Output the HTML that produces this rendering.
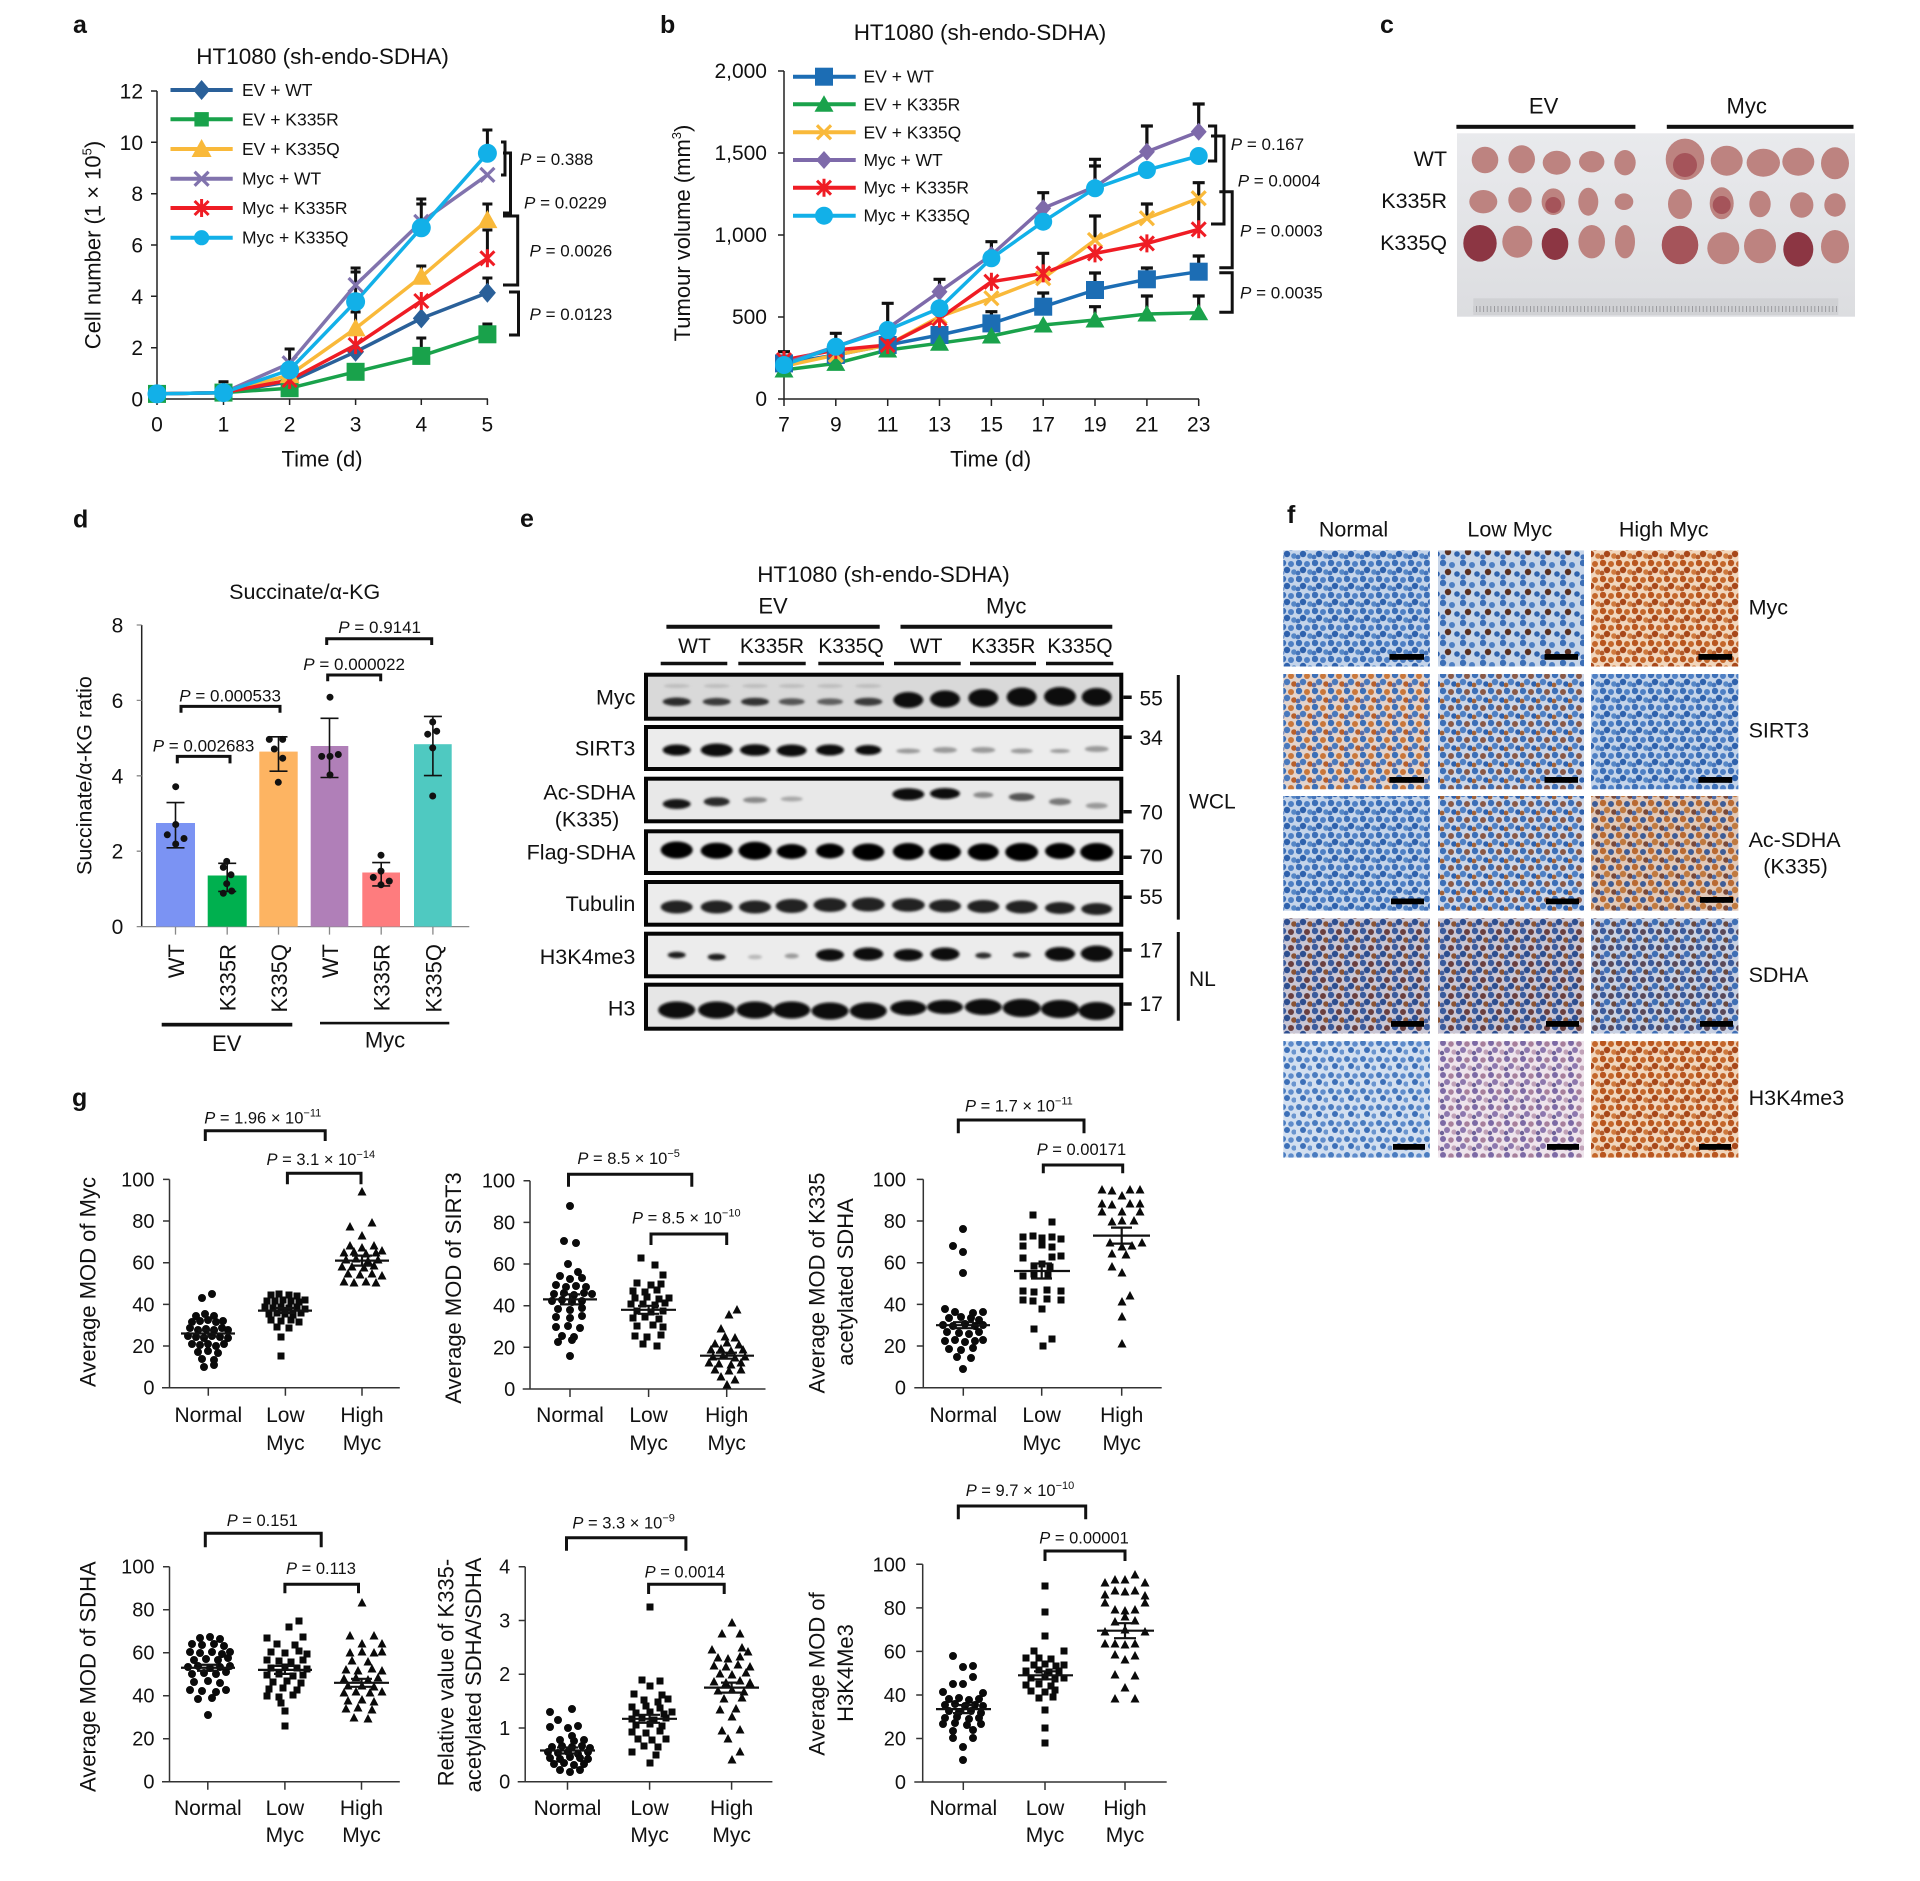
<!DOCTYPE html>
<html><head><meta charset="utf-8"><style>
html,body{margin:0;padding:0;background:#fff}
svg{display:block}
text{font-family:"Liberation Sans",Arial,sans-serif;fill:#111}
</style></head><body>
<svg width="1920" height="1881" viewBox="0 0 1920 1881" xmlns="http://www.w3.org/2000/svg">
<defs>
<g id="aDia"><path d="M0-10L8.5 0 0 10-8.5 0Z" fill="#2a6099"/></g>
<g id="aSq"><rect x="-9" y="-9" width="18" height="18" fill="#19a24b"/></g>
<g id="aTri"><path d="M0-10L10 8H-10Z" fill="#f9b93a"/></g>
<g id="aX"><path d="M-7-7L7 7M-7 7L7-7" stroke="#8173ad" stroke-width="3.2"/></g>
<g id="aAst"><path d="M-7-7L7 7M-7 7L7-7M0-9V9" stroke="#ef1c24" stroke-width="3"/></g>
<g id="aCir"><circle r="9.5" fill="#12b0e8"/></g>
<g id="bSq"><rect x="-9" y="-9" width="18" height="18" fill="#1c6db4"/></g>
<g id="bTri"><path d="M0-9L9.5 7.5H-9.5Z" fill="#1aa24b"/></g>
<g id="bX"><path d="M-7-7L7 7M-7 7L7-7" stroke="#f9b93a" stroke-width="3.2"/></g>
<g id="bDia"><path d="M0-9L8 0 0 9-8 0Z" fill="#7e6aaa"/></g>
<g id="bAst"><path d="M-7-7L7 7M-7 7L7-7M0-9V9" stroke="#ef1c24" stroke-width="3"/></g>
<g id="bCir"><circle r="9" fill="#12b0e8"/></g>
<filter id="bl" x="-30%" y="-80%" width="160%" height="260%"><feGaussianBlur stdDeviation="1.3"/></filter>
<linearGradient id="photo" x1="0" y1="0" x2="0" y2="1"><stop offset="0" stop-color="#e9eaed"/><stop offset="1" stop-color="#dcdde0"/></linearGradient>
<pattern id="ruler" width="3.6" height="17" patternUnits="userSpaceOnUse"><rect width="3.6" height="17" fill="#d0d1d4"/><rect x="0" y="0" width="0.8" height="6" fill="#8d8e92"/></pattern>
<pattern id="pB" width="16" height="16" patternUnits="userSpaceOnUse"><rect width="16" height="16" fill="#c4d4ea"/><circle cx="3" cy="3" r="3.2" fill="#3c6fb7"/><circle cx="11" cy="4" r="3" fill="#4f80c4"/><circle cx="7" cy="10" r="3.2" fill="#2f62ad"/><circle cx="14" cy="12" r="2.8" fill="#5687c6"/><circle cx="2" cy="13" r="2.4" fill="#4575bb"/></pattern>
<pattern id="pBL" width="16" height="16" patternUnits="userSpaceOnUse"><rect width="16" height="16" fill="#d2dff0"/><circle cx="3" cy="3" r="3" fill="#4a7cc0"/><circle cx="11" cy="4" r="2.8" fill="#5f8ccb"/><circle cx="7" cy="10" r="3" fill="#3d70b8"/><circle cx="14" cy="12" r="2.6" fill="#6a95cf"/></pattern>
<pattern id="pLM" width="20" height="20" patternUnits="userSpaceOnUse"><rect width="20" height="20" fill="#c6d4e8"/><circle cx="3" cy="3" r="3.2" fill="#3c6fb7"/><circle cx="12" cy="5" r="3" fill="#4f80c4"/><circle cx="8" cy="12" r="3.2" fill="#5a3020"/><circle cx="17" cy="14" r="2.8" fill="#2f62ad"/><circle cx="3" cy="17" r="2.6" fill="#4575bb"/></pattern>
<pattern id="pO" width="16" height="16" patternUnits="userSpaceOnUse"><rect width="16" height="16" fill="#f1d6bc"/><circle cx="3" cy="3" r="3.2" fill="#b9561f"/><circle cx="11" cy="4" r="3" fill="#c4672b"/><circle cx="7" cy="10" r="3.2" fill="#a8481a"/><circle cx="14" cy="12" r="2.8" fill="#cf7a3e"/><circle cx="2" cy="13" r="2.4" fill="#b35a2a"/></pattern>
<pattern id="pM" width="16" height="16" patternUnits="userSpaceOnUse"><rect width="16" height="16" fill="#e3d3cb"/><circle cx="3" cy="3" r="3.2" fill="#3c6fb7"/><circle cx="11" cy="4" r="3" fill="#c9773b"/><circle cx="7" cy="10" r="3.2" fill="#4a79bd"/><circle cx="14" cy="12" r="2.8" fill="#b8602c"/><circle cx="2" cy="13" r="2.4" fill="#5a6ea8"/></pattern>
<pattern id="pMB" width="16" height="16" patternUnits="userSpaceOnUse"><rect width="16" height="16" fill="#ccd6e8"/><circle cx="3" cy="3" r="3.2" fill="#3c6fb7"/><circle cx="11" cy="4" r="3" fill="#8a5a48"/><circle cx="7" cy="10" r="3.2" fill="#4f80c4"/><circle cx="14" cy="12" r="2.8" fill="#2f62ad"/><circle cx="2" cy="13" r="2.4" fill="#a0623a"/></pattern>
<pattern id="pHA" width="16" height="16" patternUnits="userSpaceOnUse"><rect width="16" height="16" fill="#e2c9b8"/><circle cx="3" cy="3" r="3.2" fill="#b96a32"/><circle cx="11" cy="4" r="3" fill="#3f5d96"/><circle cx="7" cy="10" r="3.2" fill="#c07a40"/><circle cx="14" cy="12" r="2.8" fill="#7a4a3a"/><circle cx="2" cy="13" r="2.4" fill="#4c6aa6"/></pattern>
<pattern id="pD" width="16" height="16" patternUnits="userSpaceOnUse"><rect width="16" height="16" fill="#c9c6d4"/><circle cx="3" cy="3" r="3.2" fill="#3a5b9c"/><circle cx="11" cy="4" r="3" fill="#6a4040"/><circle cx="7" cy="10" r="3.2" fill="#2e4f90"/><circle cx="14" cy="12" r="2.8" fill="#8a5436"/><circle cx="2" cy="13" r="2.4" fill="#45609e"/></pattern>
<pattern id="pDB" width="16" height="16" patternUnits="userSpaceOnUse"><rect width="16" height="16" fill="#c8d0e2"/><circle cx="3" cy="3" r="3.2" fill="#3a5b9c"/><circle cx="11" cy="4" r="3" fill="#5a4a5a"/><circle cx="7" cy="10" r="3.2" fill="#3f6fb5"/><circle cx="14" cy="12" r="2.8" fill="#6a4a40"/><circle cx="2" cy="13" r="2.4" fill="#4a6aac"/></pattern>
<pattern id="pP" width="16" height="16" patternUnits="userSpaceOnUse"><rect width="16" height="16" fill="#eee4ec"/><circle cx="3" cy="3" r="3" fill="#7c6aa5"/><circle cx="11" cy="4" r="2.8" fill="#a7809c"/><circle cx="7" cy="10" r="3" fill="#8d78ae"/><circle cx="14" cy="12" r="2.6" fill="#c0a2b8"/><circle cx="2" cy="13" r="2.2" fill="#6e6298"/></pattern>
</defs>

<!-- panel letters -->
<g font-weight="bold" font-size="25">
<text x="73" y="33">a</text><text x="660" y="33">b</text><text x="1380" y="33">c</text>
<text x="73" y="527.5">d</text><text x="520" y="527">e</text><text x="1287" y="523">f</text>
<text x="72" y="1106">g</text>
</g>

<!-- ================= PANEL A ================= -->
<text x="322.6" y="64" text-anchor="middle" font-size="22.5">HT1080 (sh-endo-SDHA)</text>
<path d="M157 91V399H488" stroke="#222" stroke-width="1.5" fill="none"/>
<path d="M151 91H157M151 142.3H157M151 193.7H157M151 245H157M151 296.3H157M151 347.7H157M151 399H157M157 399V405M223.5 399V405M289.6 399V405M355.6 399V405M421.3 399V405M487.4 399V405" stroke="#222" stroke-width="1.5"/>
<g font-size="21" text-anchor="end">
<text x="143" y="98.5">12</text><text x="143" y="149.8">10</text><text x="143" y="201.2">8</text><text x="143" y="252.5">6</text><text x="143" y="303.8">4</text><text x="143" y="355.2">2</text><text x="143" y="406.5">0</text>
</g>
<g font-size="21" text-anchor="middle">
<text x="157" y="431.7">0</text><text x="223.5" y="431.7">1</text><text x="289.6" y="431.7">2</text><text x="355.6" y="431.7">3</text><text x="421.3" y="431.7">4</text><text x="487.4" y="431.7">5</text>
</g>
<text x="322" y="466.7" text-anchor="middle" font-size="22">Time (d)</text>
<text transform="translate(100.6,245) rotate(-90)" text-anchor="middle" font-size="22">Cell number (1 × 10<tspan dy="-9" font-size="13">5</tspan><tspan dy="9">)</tspan></text>
<!-- error bars a -->
<path d="M223.5 392V381.7M218.5 381.7h10M289.6 363V349M284.6 349h10M355.6 285V268M350.6 268h10M355.6 301V272M350.6 272h10M355.6 328V312M350.6 312h10M421.3 222V199M416.3 199h10M416.3 204h10M421.3 277V266M416.3 266h10M421.3 356V338M416.3 338h10M487.4 153V130M482.4 130h10M487.4 220V204M482.4 204h10M487.4 258V230M482.4 230h10M487.4 293V278M482.4 278h10M487.4 334V324M482.4 324h10" stroke="#111" stroke-width="3" fill="none"/>
<!-- series a -->
<g fill="none" stroke-width="3.5" stroke-linejoin="round">
<path d="M157 393.9L223.5 392.6 289.6 381.8 355.6 351.8 421.3 318.4 487.4 292.7" stroke="#2a6099"/>
<path d="M157 393.9L223.5 392.6 289.6 388.2 355.6 371.8 421.3 355.9 487.4 334.3" stroke="#19a24b"/>
<path d="M157 393.9L223.5 392.6 289.6 375.1 355.6 328.4 421.3 276.8 487.4 220.1" stroke="#f9b93a"/>
<path d="M157 393.9L223.5 392.6 289.6 380 355.6 345.1 421.3 301 487.4 258.3" stroke="#ef1c24"/>
<path d="M157 393.9L223.5 392.6 289.6 363.3 355.6 285 421.3 221.9 487.4 174.9" stroke="#8173ad"/>
<path d="M157 393.9L223.5 392.6 289.6 370 355.6 301.7 421.3 227.8 487.4 153.3" stroke="#12b0e8"/>
</g>
<use href="#aDia" x="289.6" y="381.8"/><use href="#aDia" x="355.6" y="351.8"/><use href="#aDia" x="421.3" y="318.4"/><use href="#aDia" x="487.4" y="292.7"/>
<use href="#aSq" x="157" y="393.9"/><use href="#aSq" x="223.5" y="392.6"/><use href="#aSq" x="289.6" y="388.2"/><use href="#aSq" x="355.6" y="371.8"/><use href="#aSq" x="421.3" y="355.9"/><use href="#aSq" x="487.4" y="334.3"/>
<use href="#aTri" x="289.6" y="375.1"/><use href="#aTri" x="355.6" y="328.4"/><use href="#aTri" x="421.3" y="276.8"/><use href="#aTri" x="487.4" y="220.1"/>
<use href="#aAst" x="289.6" y="380"/><use href="#aAst" x="355.6" y="345.1"/><use href="#aAst" x="421.3" y="301"/><use href="#aAst" x="487.4" y="258.3"/>
<use href="#aX" x="289.6" y="363.3"/><use href="#aX" x="355.6" y="285"/><use href="#aX" x="421.3" y="221.9"/><use href="#aX" x="487.4" y="174.9"/>
<use href="#aCir" x="157" y="393.9"/><use href="#aCir" x="223.5" y="392.6"/><use href="#aCir" x="289.6" y="370"/><use href="#aCir" x="355.6" y="301.7"/><use href="#aCir" x="421.3" y="227.8"/><use href="#aCir" x="487.4" y="153.3"/>
<!-- legend a -->
<g stroke-width="4">
<path d="M170.5 90H232.7" stroke="#2a6099"/><path d="M170.5 119.3H232.7" stroke="#19a24b"/><path d="M170.5 149H232.7" stroke="#f9b93a"/><path d="M170.5 178.7H232.7" stroke="#8173ad"/><path d="M170.5 208H232.7" stroke="#ef1c24"/><path d="M170.5 237.7H232.7" stroke="#12b0e8"/>
</g>
<use href="#aDia" x="201.6" y="90"/><use href="#aSq" x="201.6" y="119.3" transform="translate(201.6 119.3) scale(.8) translate(-201.6 -119.3)"/><use href="#aTri" x="201.6" y="149"/><use href="#aX" x="201.6" y="178.7"/><use href="#aAst" x="201.6" y="208"/><use href="#aCir" x="201.6" y="237.7" transform="translate(201.6 237.7) scale(.8) translate(-201.6 -237.7)"/>
<g font-size="17.5">
<text x="242" y="96">EV + WT</text><text x="242" y="125.3">EV + K335R</text><text x="242" y="155">EV + K335Q</text><text x="242" y="184.7">Myc + WT</text><text x="242" y="214">Myc + K335R</text><text x="242" y="243.7">Myc + K335Q</text>
</g>
<!-- brackets a -->
<path d="M501 142H505V175H501M503 153H510.5V213H503M503 216H517.7V285H503M509 292H518.5V335H509" stroke="#111" stroke-width="3" fill="none"/>
<g font-size="17">
<text x="520" y="165"><tspan font-style="italic">P</tspan> = 0.388</text>
<text x="524" y="208.3"><tspan font-style="italic">P</tspan> = 0.0229</text>
<text x="529.5" y="256.7"><tspan font-style="italic">P</tspan> = 0.0026</text>
<text x="529.5" y="320"><tspan font-style="italic">P</tspan> = 0.0123</text>
</g>

<!-- ================= PANEL B ================= -->
<text x="980" y="40" text-anchor="middle" font-size="22.5">HT1080 (sh-endo-SDHA)</text>
<path d="M784 71V399H1199" stroke="#222" stroke-width="1.5" fill="none"/>
<path d="M778 71H784M778 153H784M778 235H784M778 317H784M778 399H784M784 399V406M835.8 399V406M887.7 399V406M939.5 399V406M991.4 399V406M1043.2 399V406M1095 399V406M1146.9 399V406M1198.7 399V406" stroke="#222" stroke-width="1.5"/>
<g font-size="21" text-anchor="end">
<text x="767" y="78">2,000</text><text x="767" y="160">1,500</text><text x="767" y="242">1,000</text><text x="767" y="324">500</text><text x="767" y="406">0</text>
</g>
<g font-size="21" text-anchor="middle">
<text x="784" y="431.7">7</text><text x="835.8" y="431.7">9</text><text x="887.7" y="431.7">11</text><text x="939.5" y="431.7">13</text><text x="991.4" y="431.7">15</text><text x="1043.2" y="431.7">17</text><text x="1095" y="431.7">19</text><text x="1146.9" y="431.7">21</text><text x="1198.7" y="431.7">23</text>
</g>
<text x="990.7" y="466.7" text-anchor="middle" font-size="22">Time (d)</text>
<text transform="translate(690,233) rotate(-90)" text-anchor="middle" font-size="22">Tumour volume (mm<tspan dy="-9" font-size="13">3</tspan><tspan dy="9">)</tspan></text>
<!-- error bars b -->
<path d="M784 363V351.7M778 351.7h12M835.8 347V333.3M829.8 333.3h12M887.7 328V303.3M881.7 303.3h12M939.5 292V279.3M933.5 279.3h12M991.4 255V241.7M985.4 241.7h12M991.4 323V311.7M985.4 311.7h12M1043.2 208V192.7M1037.2 192.7h12M1043.2 278V253.3M1037.2 253.3h12M1043.2 307V293M1037.2 293h12M1095 187V159.3M1089 159.3h12M1089 166h12M1095 240V216M1089 216h12M1095 290V273M1089 273h12M1095 320V306.7M1089 306.7h12M1146.9 152V126M1140.9 126h12M1146.9 218V204M1140.9 204h12M1146.9 279V268M1140.9 268h12M1146.9 314V296M1140.9 296h12M1198.7 132V104M1192.7 104h12M1198.7 230V182.7M1192.7 182.7h12M1198.7 272V256M1192.7 256h12M1198.7 313V296M1192.7 296h12" stroke="#111" stroke-width="3.2" fill="none"/>
<g fill="none" stroke-width="3.5" stroke-linejoin="round">
<path d="M784 363.4L835.8 355 887.7 345 939.5 335 991.4 323.4 1043.2 306.7 1095 290 1146.9 279.3 1198.7 271.7" stroke="#1c6db4"/>
<path d="M784 370L835.8 363.4 887.7 350 939.5 343.2 991.4 336 1043.2 325 1095 320 1146.9 314 1198.7 312.7" stroke="#1aa24b"/>
<path d="M784 366.2L835.8 355 887.7 345 939.5 316.7 991.4 298.3 1043.2 278.3 1095 240 1146.9 218.3 1198.7 198.3" stroke="#f9b93a"/>
<path d="M784 360L835.8 350 887.7 345 939.5 318.6 991.4 281.7 1043.2 273.4 1095 253.4 1146.9 243.4 1198.7 229.3" stroke="#ef1c24"/>
<path d="M784 363.4L835.8 346.7 887.7 328.3 939.5 291.7 991.4 255 1043.2 208.3 1095 186.8 1146.9 151.7 1198.7 131.7" stroke="#7e6aaa"/>
<path d="M784 365L835.8 346.7 887.7 330 939.5 308.3 991.4 258.3 1043.2 221.7 1095 188.3 1146.9 170 1198.7 156" stroke="#12b0e8"/>
</g>
<use href="#bSq" x="784" y="363.4"/><use href="#bSq" x="835.8" y="355"/><use href="#bSq" x="887.7" y="345"/><use href="#bSq" x="939.5" y="335"/><use href="#bSq" x="991.4" y="323.4"/><use href="#bSq" x="1043.2" y="306.7"/><use href="#bSq" x="1095" y="290"/><use href="#bSq" x="1146.9" y="279.3"/><use href="#bSq" x="1198.7" y="271.7"/>
<use href="#bTri" x="784" y="370"/><use href="#bTri" x="835.8" y="363.4"/><use href="#bTri" x="887.7" y="350"/><use href="#bTri" x="939.5" y="343.2"/><use href="#bTri" x="991.4" y="336"/><use href="#bTri" x="1043.2" y="325"/><use href="#bTri" x="1095" y="320"/><use href="#bTri" x="1146.9" y="314"/><use href="#bTri" x="1198.7" y="312.7"/>
<use href="#bX" x="835.8" y="355"/><use href="#bX" x="939.5" y="316.7"/><use href="#bX" x="991.4" y="298.3"/><use href="#bX" x="1043.2" y="278.3"/><use href="#bX" x="1095" y="240"/><use href="#bX" x="1146.9" y="218.3"/><use href="#bX" x="1198.7" y="198.3"/>
<use href="#bAst" x="784" y="360"/><use href="#bAst" x="835.8" y="350"/><use href="#bAst" x="887.7" y="345"/><use href="#bAst" x="939.5" y="318.6"/><use href="#bAst" x="991.4" y="281.7"/><use href="#bAst" x="1043.2" y="273.4"/><use href="#bAst" x="1095" y="253.4"/><use href="#bAst" x="1146.9" y="243.4"/><use href="#bAst" x="1198.7" y="229.3"/>
<use href="#bDia" x="939.5" y="291.7"/><use href="#bDia" x="991.4" y="255"/><use href="#bDia" x="1043.2" y="208.3"/><use href="#bDia" x="1095" y="186.8"/><use href="#bDia" x="1146.9" y="151.7"/><use href="#bDia" x="1198.7" y="131.7"/>
<use href="#bCir" x="784" y="365"/><use href="#bCir" x="835.8" y="346.7"/><use href="#bCir" x="887.7" y="330"/><use href="#bCir" x="939.5" y="308.3"/><use href="#bCir" x="991.4" y="258.3"/><use href="#bCir" x="1043.2" y="221.7"/><use href="#bCir" x="1095" y="188.3"/><use href="#bCir" x="1146.9" y="170"/><use href="#bCir" x="1198.7" y="156"/>
<!-- legend b -->
<g stroke-width="4">
<path d="M793 76.7H855.7" stroke="#1c6db4"/><path d="M793 104.3H855.7" stroke="#1aa24b"/><path d="M793 132.3H855.7" stroke="#f9b93a"/><path d="M793 160H855.7" stroke="#7e6aaa"/><path d="M793 187.7H855.7" stroke="#ef1c24"/><path d="M793 215.7H855.7" stroke="#12b0e8"/>
</g>
<use href="#bSq" x="824" y="76.7"/><use href="#bTri" x="824" y="104.3"/><use href="#bX" x="824" y="132.3"/><use href="#bDia" x="824" y="160"/><use href="#bAst" x="824" y="187.7"/><use href="#bCir" x="824" y="215.7"/>
<g font-size="17.5">
<text x="863.5" y="82.7">EV + WT</text><text x="863.5" y="110.3">EV + K335R</text><text x="863.5" y="138.3">EV + K335Q</text><text x="863.5" y="166">Myc + WT</text><text x="863.5" y="193.7">Myc + K335R</text><text x="863.5" y="221.7">Myc + K335Q</text>
</g>
<path d="M1208 126H1215.7V161H1208M1211 136H1224V224H1211M1219.3 191.7H1232.2V267.7H1219.3M1219.3 272.7H1232.2V312.3H1219.3" stroke="#111" stroke-width="3" fill="none"/>
<g font-size="17">
<text x="1230.8" y="150"><tspan font-style="italic">P</tspan> = 0.167</text>
<text x="1237.7" y="186.7"><tspan font-style="italic">P</tspan> = 0.0004</text>
<text x="1240" y="236.7"><tspan font-style="italic">P</tspan> = 0.0003</text>
<text x="1240" y="298.3"><tspan font-style="italic">P</tspan> = 0.0035</text>
</g>

<!-- ================= PANEL C ================= -->
<text x="1543.6" y="113.3" text-anchor="middle" font-size="22">EV</text>
<text x="1746.7" y="113.3" text-anchor="middle" font-size="22">Myc</text>
<rect x="1456.4" y="124.8" width="179" height="4" fill="#111"/>
<rect x="1666.8" y="124.8" width="186.7" height="4" fill="#111"/>
<g font-size="21.5" text-anchor="end">
<text x="1447" y="166">WT</text><text x="1447" y="208">K335R</text><text x="1447" y="250">K335Q</text>
</g>
<rect x="1457" y="133.3" width="398" height="183.4" fill="url(#photo)"/>
<rect x="1473.3" y="298.3" width="365" height="16.7" fill="url(#ruler)"/>
<g fill="#bd8380">
<ellipse cx="1485" cy="160" rx="13.3" ry="13.3"/><ellipse cx="1521.7" cy="159.3" rx="13.3" ry="14"/><ellipse cx="1556.7" cy="162.7" rx="14" ry="12"/><ellipse cx="1591.7" cy="161.7" rx="12.7" ry="10.7"/><ellipse cx="1625" cy="162.7" rx="10.7" ry="12.7"/>
<ellipse cx="1685" cy="159.3" rx="19.3" ry="20.7"/><ellipse cx="1726.7" cy="160.7" rx="16" ry="15"/><ellipse cx="1763.3" cy="162.7" rx="16.7" ry="14"/><ellipse cx="1798.3" cy="161.7" rx="16" ry="14"/><ellipse cx="1835" cy="163.3" rx="14" ry="16"/>
<ellipse cx="1483.3" cy="201.7" rx="14" ry="11.7"/><ellipse cx="1520" cy="200" rx="11.7" ry="12.7"/><ellipse cx="1553.3" cy="201.7" rx="11.7" ry="13.3"/><ellipse cx="1588.3" cy="201.7" rx="10" ry="14"/><ellipse cx="1624" cy="201.7" rx="9.3" ry="8.3"/>
<ellipse cx="1680" cy="204" rx="12" ry="15"/><ellipse cx="1721.7" cy="203.3" rx="12" ry="16"/><ellipse cx="1760" cy="204" rx="10.7" ry="13.3"/><ellipse cx="1801.7" cy="205" rx="11.7" ry="12.7"/><ellipse cx="1835" cy="205" rx="10.7" ry="11.7"/>
<ellipse cx="1517.3" cy="241.7" rx="15" ry="16"/><ellipse cx="1591.7" cy="241.7" rx="13.3" ry="16.7"/><ellipse cx="1625" cy="241.7" rx="10" ry="16.7"/>
<ellipse cx="1723.3" cy="248.3" rx="16" ry="16"/><ellipse cx="1760" cy="246" rx="16" ry="17.3"/><ellipse cx="1835" cy="246.7" rx="14" ry="16.7"/>
</g>
<g fill="#a5545a">
<ellipse cx="1680" cy="245" rx="18.3" ry="19.3"/><ellipse cx="1721.7" cy="205" rx="9" ry="9"/><ellipse cx="1553.3" cy="205" rx="8" ry="8"/><ellipse cx="1685" cy="165" rx="12" ry="12"/>
</g>
<g fill="#8c3643">
<ellipse cx="1480" cy="243.3" rx="16.7" ry="18.3"/><ellipse cx="1555" cy="244" rx="13.3" ry="16"/><ellipse cx="1798.3" cy="249.3" rx="15" ry="17.3"/>
</g>

<!-- ================= PANEL D ================= -->
<text x="304.7" y="599" text-anchor="middle" font-size="21.5">Succinate/α-KG</text>
<path d="M141.7 625V926.6" stroke="#222" stroke-width="1.5"/>
<path d="M141.7 926.6H469.3M136.7 625H141.7M136.7 700.4H141.7M136.7 775.8H141.7M136.7 851.2H141.7M136.7 926.6H141.7M175.5 926.6V934.6M227.2 926.6V934.6M278.5 926.6V934.6M329.5 926.6V934.6M381.2 926.6V934.6M432.9 926.6V934.6" stroke="#888" stroke-width="1.3"/>
<g font-size="21" text-anchor="end">
<text x="123.3" y="632.5">8</text><text x="123.3" y="707.9">6</text><text x="123.3" y="783.3">4</text><text x="123.3" y="858.7">2</text><text x="123.3" y="934.1">0</text>
</g>
<rect x="156" y="823" width="39" height="103.6" fill="#7b93f3"/>
<rect x="207.7" y="875.5" width="39" height="51.1" fill="#00b04f"/>
<rect x="259.3" y="751.6" width="38.4" height="175" fill="#fdb462"/>
<rect x="310.7" y="746" width="37.6" height="180.6" fill="#b07fb8"/>
<rect x="362.3" y="872.5" width="37.7" height="54.1" fill="#fe7c7e"/>
<rect x="414" y="744.2" width="37.7" height="182.4" fill="#4fc9c1"/>
<path d="M175.5 802.6V847.8M166.5 802.6h18M166.5 847.8h18M227.2 863.3V891.4M218.2 863.3h18M218.2 891.4h18M278.5 736.8V771.2M269.5 736.8h18M269.5 771.2h18M329.5 718.3V777.5M320.5 718.3h18M320.5 777.5h18M381.2 862.6V885.9M372.2 862.6h18M372.2 885.9h18M432.9 716.4V775.6M423.9 716.4h18M423.9 775.6h18" stroke="#111" stroke-width="1.6" fill="none"/>
<path d="M175.7 786.7h0M175.7 824.5h0M167.3 834.8h0M184 838.5h0M175.7 844h0M226.7 861.4h0M223.3 867.4h0M231 874.8h0M226.7 883.7h0M223.3 893.3h0M231.7 891h0M269.3 739.4h0M282.7 739.4h0M274.3 749h0M282.7 758.2h0M278.3 782.3h0M330 697.2h0M321.7 756.4h0M330 756.4h0M338.3 754.5h0M330 774.9h0M381 855.2h0M381 871.1h0M373.3 877.4h0M389.3 881.1h0M381 884.8h0M432.7 722h0M427.7 734.2h0M436.7 731.2h0M432.7 747.9h0M432.7 796h0" stroke="#111" stroke-width="7" stroke-linecap="round"/>
<path d="M177.3 763.4V756.4H230V763.4M181 712.7V706.4H280V712.7M327.7 681.3V675H380.7V681.3M326.7 645V638.7H431.7V645" stroke="#111" stroke-width="3" fill="none"/>
<g font-size="17">
<text x="152.7" y="751.6"><tspan font-style="italic">P</tspan> = 0.002683</text>
<text x="179.3" y="701.6"><tspan font-style="italic">P</tspan> = 0.000533</text>
<text x="303.3" y="670.2"><tspan font-style="italic">P</tspan> = 0.000022</text>
<text x="338.3" y="633.2"><tspan font-style="italic">P</tspan> = 0.9141</text>
</g>
<g font-size="22" text-anchor="end">
<text transform="translate(184,944) rotate(-90)">WT</text>
<text transform="translate(235.7,944) rotate(-90)">K335R</text>
<text transform="translate(287,944) rotate(-90)">K335Q</text>
<text transform="translate(338,944) rotate(-90)">WT</text>
<text transform="translate(389.7,944) rotate(-90)">K335R</text>
<text transform="translate(441.4,944) rotate(-90)">K335Q</text>
</g>
<rect x="161.7" y="1022.8" width="130.6" height="3.7" fill="#111"/>
<rect x="320" y="1021.8" width="129.3" height="2.6" fill="#111"/>
<text x="226.7" y="1051" text-anchor="middle" font-size="22">EV</text>
<text x="385" y="1047.5" text-anchor="middle" font-size="22">Myc</text>
<text transform="translate(91.3,775.6) rotate(-90)" text-anchor="middle" font-size="21.5">Succinate/α-KG ratio</text>

<!-- ================= PANEL E ================= -->
<text x="883.5" y="582" text-anchor="middle" font-size="22.5">HT1080 (sh-endo-SDHA)</text>
<text x="773" y="613.6" text-anchor="middle" font-size="22">EV</text>
<text x="1006.2" y="613.6" text-anchor="middle" font-size="22">Myc</text>
<path d="M666.4 626.8H879.7M900.5 626.8H1112.3" stroke="#111" stroke-width="4"/>
<g font-size="21" text-anchor="middle">
<text x="694.5" y="652.9">WT</text><text x="772" y="652.9">K335R</text><text x="851" y="652.9">K335Q</text><text x="926.2" y="652.9">WT</text><text x="1003.3" y="652.9">K335R</text><text x="1079.9" y="652.9">K335Q</text>
</g>
<path d="M660.7 663.5H727.3M738.3 663.5H805.7M818.3 663.5H884M894 663.5H960.7M970 663.5H1036M1046 663.5H1113.3" stroke="#111" stroke-width="3.5"/>
<!-- blot boxes -->
<rect x="646" y="674.7" width="475.3" height="44" fill="#d9d9d9"/>
<rect x="646" y="727" width="475.3" height="42" fill="#ececec"/>
<rect x="646" y="778.7" width="475.3" height="42.6" fill="#e8e8e8"/>
<rect x="646" y="831.3" width="475.3" height="41.7" fill="#ececec"/>
<rect x="646" y="882" width="475.3" height="42.7" fill="#ececec"/>
<rect x="646" y="933.7" width="475.3" height="42.6" fill="#ececec"/>
<rect x="646" y="984.7" width="475.3" height="44" fill="#e6e6e6"/>
<g filter="url(#bl)">
<!-- Myc -->
<g fill="#bdbdbd"><ellipse cx="676.7" cy="686" rx="13" ry="2"/><ellipse cx="716.7" cy="686" rx="13" ry="2"/><ellipse cx="755" cy="686" rx="13" ry="2"/><ellipse cx="791.7" cy="686" rx="13" ry="2"/><ellipse cx="830" cy="686" rx="13" ry="2"/><ellipse cx="868.3" cy="686" rx="13" ry="2"/></g>
<ellipse cx="676.7" cy="701.7" rx="14" ry="4.2" fill="#2a2a2a"/><ellipse cx="716.7" cy="701.7" rx="14" ry="3.8" fill="#3a3a3a"/><ellipse cx="755" cy="701.7" rx="14" ry="4" fill="#333"/><ellipse cx="791.7" cy="701.7" rx="13" ry="3.5" fill="#555"/><ellipse cx="830" cy="701.7" rx="13" ry="3.3" fill="#5e5e5e"/><ellipse cx="868.3" cy="701.7" rx="14" ry="4" fill="#3a3a3a"/>
<g fill="#0a0a0a"><ellipse cx="908.3" cy="700" rx="15" ry="8"/><ellipse cx="945" cy="699" rx="15" ry="8.5"/><ellipse cx="983.3" cy="698" rx="15" ry="9"/><ellipse cx="1021.7" cy="697" rx="15" ry="9.5"/><ellipse cx="1060" cy="696.5" rx="16" ry="9.5"/><ellipse cx="1096.7" cy="697" rx="15" ry="9"/></g>
<!-- SIRT3 -->
<g fill="#0e0e0e"><ellipse cx="676.7" cy="750" rx="14" ry="5.5"/><ellipse cx="716.7" cy="750" rx="16" ry="6.5"/><ellipse cx="755" cy="750" rx="15" ry="5.8"/><ellipse cx="791.7" cy="750.5" rx="15" ry="6"/><ellipse cx="830" cy="750" rx="14" ry="5.5"/><ellipse cx="868.3" cy="750" rx="13" ry="5"/></g>
<g fill="#9a9a9a"><ellipse cx="908.3" cy="751" rx="12" ry="2.5"/><ellipse cx="945" cy="750" rx="12" ry="3"/><ellipse cx="983.3" cy="750" rx="12" ry="3"/><ellipse cx="1021.7" cy="751" rx="11" ry="2.5"/><ellipse cx="1060" cy="751" rx="10" ry="2"/><ellipse cx="1096.7" cy="749" rx="12" ry="3"/></g>
<!-- Ac-SDHA -->
<ellipse cx="676.7" cy="804" rx="14" ry="5" fill="#151515"/><ellipse cx="716.7" cy="801.7" rx="13" ry="4.5" fill="#2a2a2a"/><ellipse cx="755" cy="800" rx="12" ry="3" fill="#888"/><ellipse cx="791.7" cy="799" rx="11" ry="2.5" fill="#a8a8a8"/>
<ellipse cx="908.3" cy="794.3" rx="16" ry="6" fill="#0e0e0e"/><ellipse cx="945" cy="793.5" rx="15" ry="5.5" fill="#111"/><ellipse cx="983.3" cy="795" rx="10" ry="3" fill="#888"/><ellipse cx="1021.7" cy="797" rx="13" ry="4" fill="#555"/><ellipse cx="1060" cy="801.7" rx="11" ry="3.5" fill="#777"/><ellipse cx="1096.7" cy="805.7" rx="11" ry="3" fill="#999"/>
<!-- Flag -->
<g fill="#060606"><ellipse cx="676.7" cy="850" rx="16" ry="8.5"/><ellipse cx="716.7" cy="850.7" rx="16" ry="8"/><ellipse cx="755" cy="850.7" rx="16.5" ry="9"/><ellipse cx="791.7" cy="851.5" rx="15" ry="7.5"/><ellipse cx="830" cy="851" rx="14" ry="7.5"/><ellipse cx="868.3" cy="852" rx="16" ry="8.5"/><ellipse cx="908.3" cy="851.5" rx="15.5" ry="8.5"/><ellipse cx="945" cy="852" rx="16" ry="8.5"/><ellipse cx="983.3" cy="852" rx="15.5" ry="8.5"/><ellipse cx="1021.7" cy="852" rx="16.5" ry="9"/><ellipse cx="1060" cy="851" rx="15" ry="8"/><ellipse cx="1096.7" cy="852" rx="16.5" ry="9"/></g>
<!-- Tubulin -->
<g fill="#222"><ellipse cx="676.7" cy="907" rx="16" ry="6.5"/><ellipse cx="716.7" cy="907" rx="16" ry="6.5"/><ellipse cx="755" cy="907" rx="16" ry="6.5"/><ellipse cx="791.7" cy="906" rx="16" ry="7"/><ellipse cx="830" cy="905" rx="16.5" ry="7"/><ellipse cx="868.3" cy="904.5" rx="16.5" ry="7"/><ellipse cx="908.3" cy="905" rx="16.5" ry="6.8"/><ellipse cx="945" cy="906" rx="16" ry="6.5"/><ellipse cx="983.3" cy="906.5" rx="16" ry="6.5"/><ellipse cx="1021.7" cy="907" rx="16" ry="6.5"/><ellipse cx="1060" cy="908" rx="15" ry="6"/><ellipse cx="1096.7" cy="909" rx="15.5" ry="6"/></g>
<!-- H3K4me3 -->
<ellipse cx="676.7" cy="955" rx="9" ry="3.2" fill="#1a1a1a"/><ellipse cx="716.7" cy="957" rx="9" ry="3.3" fill="#1a1a1a"/><ellipse cx="755" cy="957" rx="7" ry="2.3" fill="#b8b8b8"/><ellipse cx="791.7" cy="956" rx="7" ry="2.5" fill="#999"/>
<g fill="#080808"><ellipse cx="830" cy="955" rx="14" ry="6"/><ellipse cx="868.3" cy="954" rx="15" ry="6.5"/><ellipse cx="908.3" cy="955" rx="14.5" ry="6"/><ellipse cx="945" cy="954" rx="14.5" ry="6.5"/><ellipse cx="1060" cy="954" rx="15" ry="7"/><ellipse cx="1096.7" cy="953.5" rx="16" ry="8"/></g>
<ellipse cx="983.3" cy="955.5" rx="8" ry="3" fill="#2a2a2a"/><ellipse cx="1021.7" cy="955" rx="9" ry="3" fill="#2a2a2a"/>
<!-- H3 -->
<g fill="#070707"><ellipse cx="676.7" cy="1010" rx="18.5" ry="8.5"/><ellipse cx="716.7" cy="1010" rx="18.5" ry="8.5"/><ellipse cx="755" cy="1010" rx="18.5" ry="8.5"/><ellipse cx="791.7" cy="1010" rx="18.5" ry="8.5"/><ellipse cx="830" cy="1011" rx="18.5" ry="8.5"/><ellipse cx="868.3" cy="1011" rx="18.5" ry="8.5"/><ellipse cx="908.3" cy="1008" rx="18" ry="7.5"/><ellipse cx="945" cy="1007" rx="18" ry="7"/><ellipse cx="983.3" cy="1007" rx="18.5" ry="8"/><ellipse cx="1021.7" cy="1008" rx="19" ry="9"/><ellipse cx="1060" cy="1009" rx="19" ry="9"/><ellipse cx="1096.7" cy="1011" rx="18" ry="9"/></g>
</g>
<g fill="none" stroke="#050505" stroke-width="4">
<rect x="646" y="674.7" width="475.3" height="44"/>
<rect x="646" y="727" width="475.3" height="42"/>
<rect x="646" y="778.7" width="475.3" height="42.6"/>
<rect x="646" y="831.3" width="475.3" height="41.7"/>
<rect x="646" y="882" width="475.3" height="42.7"/>
<rect x="646" y="933.7" width="475.3" height="42.6"/>
<rect x="646" y="984.7" width="475.3" height="44"/>
</g>
<path d="M1123.3 697.3H1131.7M1123.3 737.3H1131.7M1123.3 811.7H1131.7M1123.3 857.3H1131.7M1123.3 897.3H1131.7M1123.3 950H1131.7M1123.3 1004H1131.7" stroke="#111" stroke-width="3.5"/>
<g font-size="21">
<text x="1139.5" y="705.5">55</text><text x="1139.5" y="745">34</text><text x="1139.5" y="819.3">70</text><text x="1139.5" y="864">70</text><text x="1139.5" y="904">55</text><text x="1139.5" y="957.5">17</text><text x="1139.5" y="1011">17</text>
</g>
<path d="M1178.3 675V919.6M1178.3 932V1020.7" stroke="#111" stroke-width="3"/>
<text x="1189" y="808.5" font-size="21">WCL</text>
<text x="1189" y="986" font-size="21">NL</text>
<g font-size="21.5" text-anchor="end">
<text x="635.4" y="704.5">Myc</text><text x="635.4" y="755.5">SIRT3</text><text x="635.4" y="799.5">Ac-SDHA</text><text x="635.4" y="859.3">Flag-SDHA</text><text x="635.4" y="911">Tubulin</text><text x="635.4" y="964">H3K4me3</text><text x="635.4" y="1015.4">H3</text>
</g>
<text x="587" y="826.5" font-size="21.5" text-anchor="middle">(K335)</text>

<!-- ================= PANEL F ================= -->
<g font-size="21.5" text-anchor="middle">
<text x="1353.5" y="536.6">Normal</text><text x="1509.8" y="536.6">Low Myc</text><text x="1663.7" y="536.6">High Myc</text>
</g>
<rect x="1283.3" y="550.4" width="146.5" height="116.1" fill="url(#pB)"/>
<rect x="1438" y="550.4" width="146" height="116.1" fill="url(#pLM)"/>
<rect x="1591" y="550.4" width="147.4" height="116.1" fill="url(#pO)"/>
<rect x="1283.3" y="674" width="146.5" height="115.3" fill="url(#pM)"/>
<rect x="1438" y="674" width="146" height="115.3" fill="url(#pMB)"/>
<rect x="1591" y="674" width="147.4" height="115.3" fill="url(#pB)"/>
<rect x="1283.3" y="796" width="146.5" height="114.7" fill="url(#pB)"/>
<rect x="1438" y="796" width="146" height="114.7" fill="url(#pMB)"/>
<rect x="1591" y="796" width="147.4" height="114.7" fill="url(#pHA)"/>
<rect x="1283.3" y="918.3" width="146.5" height="115.2" fill="url(#pD)"/>
<rect x="1438" y="918.3" width="146" height="115.2" fill="url(#pD)"/>
<rect x="1591" y="918.3" width="147.4" height="115.2" fill="url(#pDB)"/>
<rect x="1283.3" y="1041" width="146.5" height="116.6" fill="url(#pBL)"/>
<rect x="1438" y="1041" width="146" height="116.6" fill="url(#pP)"/>
<rect x="1591" y="1041" width="147.4" height="116.6" fill="url(#pO)"/>
<g fill="#000">
<rect x="1389.4" y="654" width="34.6" height="5.8"/><rect x="1544.5" y="654" width="33.5" height="5.8"/><rect x="1698.4" y="654" width="33.8" height="5.8"/>
<rect x="1389.4" y="777" width="34.6" height="5.8"/><rect x="1544.5" y="777" width="33.5" height="5.8"/><rect x="1698.4" y="777" width="33.8" height="5.8"/>
<rect x="1391" y="898.5" width="33" height="5.8"/><rect x="1546" y="898.5" width="33" height="5.8"/><rect x="1700" y="897" width="33" height="5.8"/>
<rect x="1391" y="1021" width="33" height="5.8"/><rect x="1546" y="1021" width="33" height="5.8"/><rect x="1700" y="1021" width="33" height="5.8"/>
<rect x="1393" y="1144" width="32" height="5.8"/><rect x="1547" y="1144" width="32" height="5.8"/><rect x="1699" y="1144" width="32" height="5.8"/>
</g>
<g font-size="21.5">
<text x="1748.6" y="614.5">Myc</text><text x="1748.6" y="737.5">SIRT3</text><text x="1748.6" y="846.8">Ac-SDHA</text><text x="1795.5" y="873.5" text-anchor="middle">(K335)</text><text x="1748.6" y="982">SDHA</text><text x="1748.6" y="1104.8">H3K4me3</text>
</g>

<!-- ================= PANEL G ================= -->
<g stroke="#333" stroke-width="1.5" fill="none">
<path d="M169.5 1179.4V1387.7M162 1387.7H399.8M163 1179.4H169.5M163 1221H169.5M163 1262.7H169.5M163 1304.4H169.5M163 1346H169.5M163 1387.7H169.5M208.3 1387.7V1395.7M285.4 1387.7V1395.7M362 1387.7V1395.7"/>
<path d="M530 1180.7V1389M522.7 1389H765.5M523.5 1180.7H530M523.5 1222.4H530M523.5 1264H530M523.5 1305.7H530M523.5 1347.3H530M523.5 1389H530M570 1389V1397M648.6 1389V1397M726.7 1389V1397"/>
<path d="M923.3 1179.4V1387.7M914.3 1387.7H1161.7M916.8 1179.4H923.3M916.8 1221H923.3M916.8 1262.7H923.3M916.8 1304.4H923.3M916.8 1346H923.3M916.8 1387.7H923.3M963.3 1387.7V1395.7M1041.7 1387.7V1395.7M1121.7 1387.7V1395.7"/>
<path d="M169.5 1566.7V1781.7M162 1781.7H399.8M163 1566.7H169.5M163 1609.7H169.5M163 1652.7H169.5M163 1695.7H169.5M163 1738.7H169.5M163 1781.7H169.5M207.8 1781.7V1789.7M284.9 1781.7V1789.7M361.5 1781.7V1789.7"/>
<path d="M525.2 1566.7V1781.7M517.7 1781.7H772.4M518.7 1566.7H525.2M518.7 1620.5H525.2M518.7 1674.2H525.2M518.7 1728H525.2M518.7 1781.7H525.2M567.5 1781.7V1789.7M649.6 1781.7V1789.7M731.6 1781.7V1789.7"/>
<path d="M922.7 1564.3V1782M914.3 1782H1166.7M916.2 1564.3H922.7M916.2 1607.9H922.7M916.2 1651.4H922.7M916.2 1695H922.7M916.2 1738.5H922.7M916.2 1782H922.7M963.3 1782V1790M1045 1782V1790M1125 1782V1790"/>
</g>
<g font-size="20" text-anchor="end">
<text x="154.5" y="1186.4">100</text><text x="154.5" y="1228">80</text><text x="154.5" y="1269.7">60</text><text x="154.5" y="1311.4">40</text><text x="154.5" y="1353">20</text><text x="154.5" y="1394.7">0</text>
<text x="515.2" y="1187.7">100</text><text x="515.2" y="1229.4">80</text><text x="515.2" y="1271">60</text><text x="515.2" y="1312.7">40</text><text x="515.2" y="1354.3">20</text><text x="515.2" y="1396">0</text>
<text x="906" y="1186.4">100</text><text x="906" y="1228">80</text><text x="906" y="1269.7">60</text><text x="906" y="1311.4">40</text><text x="906" y="1353">20</text><text x="906" y="1394.7">0</text>
<text x="154.5" y="1573.7">100</text><text x="154.5" y="1616.7">80</text><text x="154.5" y="1659.7">60</text><text x="154.5" y="1702.7">40</text><text x="154.5" y="1745.7">20</text><text x="154.5" y="1788.7">0</text>
<text x="510.2" y="1573.7">4</text><text x="510.2" y="1627.5">3</text><text x="510.2" y="1681.2">2</text><text x="510.2" y="1735">1</text><text x="510.2" y="1788.7">0</text>
<text x="906" y="1571.3">100</text><text x="906" y="1614.9">80</text><text x="906" y="1658.4">60</text><text x="906" y="1702">40</text><text x="906" y="1745.5">20</text><text x="906" y="1789">0</text>
</g>
<g font-size="21" text-anchor="middle">
<text x="208.3" y="1422">Normal</text><text x="285.4" y="1422">Low</text><text x="362" y="1422">High</text><text x="285.4" y="1450">Myc</text><text x="362" y="1450">Myc</text>
<text x="570" y="1422">Normal</text><text x="648.6" y="1422">Low</text><text x="726.7" y="1422">High</text><text x="648.6" y="1450">Myc</text><text x="726.7" y="1450">Myc</text>
<text x="963.3" y="1422">Normal</text><text x="1041.7" y="1422">Low</text><text x="1121.7" y="1422">High</text><text x="1041.7" y="1450">Myc</text><text x="1121.7" y="1450">Myc</text>
<text x="207.8" y="1815">Normal</text><text x="284.9" y="1815">Low</text><text x="361.5" y="1815">High</text><text x="284.9" y="1842">Myc</text><text x="361.5" y="1842">Myc</text>
<text x="567.5" y="1815">Normal</text><text x="649.6" y="1815">Low</text><text x="731.6" y="1815">High</text><text x="649.6" y="1842">Myc</text><text x="731.6" y="1842">Myc</text>
<text x="963.3" y="1815">Normal</text><text x="1045" y="1815">Low</text><text x="1125" y="1815">High</text><text x="1045" y="1842">Myc</text><text x="1125" y="1842">Myc</text>
</g>
<g font-size="22" text-anchor="middle">
<text transform="translate(95.4,1282) rotate(-90)">Average MOD of Myc</text>
<text transform="translate(461,1288) rotate(-90)">Average MOD of SIRT3</text>
<text transform="translate(824.7,1283) rotate(-90)">Average MOD of K335</text>
<text transform="translate(853,1282) rotate(-90)">acetylated SDHA</text>
<text transform="translate(95.4,1676.7) rotate(-90)">Average MOD of SDHA</text>
<text transform="translate(453.6,1672.5) rotate(-90)">Relative value of K335-</text>
<text transform="translate(481,1675) rotate(-90)">acetylated SDHA/SDHA</text>
<text transform="translate(824.7,1674) rotate(-90)">Average MOD of</text>
<text transform="translate(853,1673) rotate(-90)">H3K4Me3</text>
</g>
<!-- brackets g -->
<path d="M205.3 1141V1130.7H325.2V1141M287.4 1184.3V1173.3H361V1184.3M568.5 1186.7V1174.3H691.8V1186.7M651 1245V1234H726.7V1245M958.3 1133.3V1120H1084V1133.3M1043.3 1173.3V1165H1122.7V1173.3M205.3 1547.3V1533.3H321.2V1547.3M284.9 1593.3V1584.3H358.5V1593.3M566.5 1550.7V1537.7H685.9V1550.7M648.6 1594V1584.3H724.2V1594M958.3 1519.3V1506H1085.7V1519.3M1045 1561V1551H1125V1561" stroke="#111" stroke-width="3" fill="none"/>
<g font-size="16.5">
<text x="204.3" y="1123.3"><tspan font-style="italic">P</tspan> = 1.96 × 10<tspan dy="-7" font-size="11">−11</tspan></text>
<text x="266.5" y="1165"><tspan font-style="italic">P</tspan> = 3.1 × 10<tspan dy="-7" font-size="11">−14</tspan></text>
<text x="577.4" y="1164"><tspan font-style="italic">P</tspan> = 8.5 × 10<tspan dy="-7" font-size="11">−5</tspan></text>
<text x="632" y="1223.3"><tspan font-style="italic">P</tspan> = 8.5 × 10<tspan dy="-7" font-size="11">−10</tspan></text>
<text x="965" y="1111.7"><tspan font-style="italic">P</tspan> = 1.7 × 10<tspan dy="-7" font-size="11">−11</tspan></text>
<text x="1036.7" y="1155"><tspan font-style="italic">P</tspan> = 0.00171</text>
<text x="226.7" y="1526"><tspan font-style="italic">P</tspan> = 0.151</text>
<text x="286" y="1574"><tspan font-style="italic">P</tspan> = 0.113</text>
<text x="572.4" y="1528.3"><tspan font-style="italic">P</tspan> = 3.3 × 10<tspan dy="-7" font-size="11">−9</tspan></text>
<text x="644.6" y="1577.3"><tspan font-style="italic">P</tspan> = 0.0014</text>
<text x="965.7" y="1496"><tspan font-style="italic">P</tspan> = 9.7 × 10<tspan dy="-7" font-size="11">−10</tspan></text>
<text x="1039.3" y="1543.7"><tspan font-style="italic">P</tspan> = 0.00001</text>
</g>
<!-- scatter: circles -->
<g stroke="#0a0a0a" stroke-width="8" stroke-linecap="round" fill="none">
<path d="M202 1298h0M212 1294h0M196 1316h0M205 1314h0M214 1316h0M192 1322h0M200 1321h0M208 1320h0M216 1322h0M223 1321h0M190 1328h0M198 1330h0M206 1329h0M214 1330h0M222 1328h0M228 1330h0M188 1336h0M196 1337h0M204 1338h0M212 1336h0M220 1337h0M228 1338h0M192 1344h0M200 1345h0M208 1344h0M216 1346h0M224 1344h0M198 1352h0M208 1351h0M218 1353h0M202 1359h0M214 1360h0M204 1367h0M214 1365h0"/>
<path d="M570 1206h0M564 1241h0M576 1243h0M568 1264h0M578 1272h0M560 1276h0M570 1279h0M582 1278h0M556 1285h0M566 1287h0M576 1286h0M586 1287h0M554 1294h0M564 1293h0M574 1295h0M584 1293h0M592 1294h0M552 1301h0M562 1300h0M572 1302h0M582 1301h0M558 1309h0M570 1310h0M582 1308h0M556 1317h0M570 1318h0M582 1316h0M556 1327h0M568 1326h0M580 1328h0M562 1336h0M574 1337h0M558 1342h0M572 1340h0M570 1356h0"/>
<path d="M963 1229h0M953 1246h0M963 1252h0M963 1273h0M945 1309h0M955 1312h0M973 1313h0M983 1312h0M949 1318h0M961 1317h0M971 1318h0M979 1320h0M943 1325h0M953 1326h0M965 1324h0M975 1326h0M983 1325h0M947 1332h0M959 1333h0M969 1334h0M979 1332h0M945 1341h0M955 1340h0M965 1342h0M975 1341h0M983 1340h0M949 1349h0M961 1350h0M973 1348h0M957 1357h0M971 1358h0M963 1369h0"/>
<path d="M200 1638h0M210 1637h0M220 1639h0M192 1644h0M202 1645h0M214 1644h0M224 1646h0M190 1652h0M200 1653h0M212 1652h0M222 1654h0M230 1652h0M194 1660h0M206 1659h0M218 1660h0M228 1658h0M188 1667h0M198 1666h0M210 1668h0M220 1667h0M230 1666h0M192 1674h0M204 1673h0M216 1674h0M226 1672h0M194 1682h0M208 1681h0M220 1683h0M190 1690h0M202 1691h0M216 1692h0M226 1690h0M198 1699h0M212 1698h0M208 1715h0"/>
<path d="M550 1712h0M572 1709h0M558 1720h0M550 1727h0M568 1728h0M578 1726h0M572 1736h0M560 1740h0M574 1741h0M584 1740h0M552 1747h0M562 1746h0M572 1747h0M582 1746h0M590 1748h0M548 1752h0M558 1753h0M568 1752h0M578 1754h0M588 1752h0M550 1758h0M560 1759h0M570 1757h0M580 1758h0M588 1759h0M554 1764h0M564 1763h0M574 1765h0M584 1764h0M560 1770h0M570 1772h0M580 1770h0"/>
<path d="M953 1656h0M963 1667h0M973 1666h0M973 1677h0M953 1684h0M963 1684h0M943 1692h0M983 1693h0M949 1699h0M959 1698h0M969 1700h0M979 1699h0M945 1705h0M955 1704h0M965 1706h0M975 1705h0M983 1706h0M949 1711h0M959 1712h0M971 1711h0M981 1713h0M945 1718h0M957 1717h0M969 1719h0M979 1718h0M943 1724h0M955 1723h0M967 1725h0M981 1724h0M953 1731h0M973 1730h0M953 1738h0M973 1738h0M963 1747h0M963 1760h0"/>
</g>
<!-- scatter: squares -->
<g stroke="#0a0a0a" stroke-width="7" stroke-linecap="square" fill="none">
<path d="M271 1295h0M279 1294h0M289 1295h0M297 1296h0M267 1301h0M275 1301h0M283 1300h0M291 1301h0M299 1302h0M305 1300h0M265 1307h0M273 1308h0M281 1307h0M289 1308h0M297 1307h0M305 1309h0M269 1314h0M277 1313h0M285 1314h0M293 1315h0M301 1313h0M271 1320h0M281 1321h0M291 1320h0M299 1322h0M277 1327h0M289 1328h0M281 1337h0M281 1356h0"/>
<path d="M641 1258h0M655 1265h0M663 1275h0M637 1283h0M651 1285h0M661 1284h0M633 1291h0M645 1292h0M657 1290h0M635 1298h0M647 1297h0M659 1299h0M669 1298h0M631 1304h0M643 1304h0M655 1305h0M665 1303h0M637 1311h0M651 1312h0M663 1311h0M633 1318h0M645 1317h0M659 1319h0M637 1326h0M653 1325h0M663 1327h0M635 1336h0M647 1337h0M661 1335h0M643 1344h0M657 1346h0"/>
<path d="M1033 1215h0M1052 1222h0M1023 1237h0M1033 1236h0M1042 1238h0M1052 1237h0M1061 1239h0M1023 1246h0M1042 1245h0M1052 1247h0M1023 1258h0M1052 1257h0M1061 1256h0M1034 1266h0M1042 1264h0M1050 1267h0M1023 1276h0M1034 1274h0M1048 1275h0M1023 1291h0M1034 1292h0M1047 1290h0M1061 1291h0M1023 1300h0M1033 1301h0M1047 1299h0M1061 1300h0M1042 1309h0M1034 1329h0M1052 1339h0M1043 1346h0"/>
<path d="M299 1621h0M289 1627h0M303 1637h0M267 1638h0M277 1644h0M295 1645h0M271 1652h0M285 1653h0M299 1651h0M307 1654h0M267 1660h0M279 1661h0M291 1662h0M303 1660h0M271 1668h0M285 1667h0M297 1668h0M307 1669h0M267 1675h0M279 1674h0M293 1676h0M303 1675h0M273 1682h0M287 1681h0M301 1683h0M269 1689h0M283 1688h0M297 1690h0M267 1696h0M279 1697h0M293 1695h0M281 1703h0M285 1711h0M285 1726h0"/>
<path d="M650 1607h0M642 1680h0M660 1681h0M650 1686h0M634 1694h0M662 1695h0M644 1700h0M658 1702h0M668 1699h0M632 1707h0M646 1706h0M660 1708h0M636 1713h0M650 1712h0M664 1714h0M672 1712h0M632 1719h0M642 1718h0M654 1720h0M666 1718h0M636 1725h0M650 1724h0M662 1726h0M632 1732h0M646 1733h0M660 1731h0M638 1739h0M652 1740h0M666 1739h0M644 1746h0M658 1747h0M632 1752h0M656 1755h0M650 1763h0"/>
<path d="M1045 1586h0M1045 1612h0M1045 1636h0M1034 1651h0M1064 1651h0M1026 1658h0M1039 1658h0M1051 1659h0M1034 1665h0M1045 1664h0M1056 1666h0M1064 1665h0M1026 1671h0M1039 1670h0M1049 1672h0M1059 1671h0M1031 1678h0M1045 1677h0M1055 1679h0M1064 1678h0M1026 1685h0M1039 1684h0M1051 1686h0M1031 1691h0M1045 1692h0M1055 1690h0M1039 1698h0M1053 1697h0M1045 1710h0M1045 1728h0M1045 1743h0"/>
</g>
<!-- scatter: triangles -->
<g fill="#0a0a0a">
<path d="M362 1187l4.5 8.5h-9zM350 1222l4.5 8.5h-9zM372 1218l4.5 8.5h-9zM362 1231l4.5 8.5h-9zM350 1241l4.5 8.5h-9zM362 1243l4.5 8.5h-9zM374 1241l4.5 8.5h-9zM344 1248l4.5 8.5h-9zM354 1247l4.5 8.5h-9zM366 1249l4.5 8.5h-9zM376 1248l4.5 8.5h-9zM382 1246l4.5 8.5h-9zM346 1255l4.5 8.5h-9zM356 1254l4.5 8.5h-9zM368 1256l4.5 8.5h-9zM378 1255l4.5 8.5h-9zM342 1262l4.5 8.5h-9zM352 1262l4.5 8.5h-9zM364 1263l4.5 8.5h-9zM374 1261l4.5 8.5h-9zM348 1269l4.5 8.5h-9zM360 1270l4.5 8.5h-9zM372 1269l4.5 8.5h-9zM382 1271l4.5 8.5h-9zM344 1277l4.5 8.5h-9zM354 1278l4.5 8.5h-9zM366 1277l4.5 8.5h-9zM376 1278l4.5 8.5h-9z"/>
<path d="M737 1305l4.5 8.5h-9zM729 1310l4.5 8.5h-9zM721 1324l4.5 8.5h-9zM725 1332l4.5 8.5h-9zM735 1333l4.5 8.5h-9zM715 1339l4.5 8.5h-9zM727 1338l4.5 8.5h-9zM739 1340l4.5 8.5h-9zM711 1345l4.5 8.5h-9zM721 1344l4.5 8.5h-9zM731 1346l4.5 8.5h-9zM743 1345l4.5 8.5h-9zM713 1352l4.5 8.5h-9zM723 1351l4.5 8.5h-9zM735 1353l4.5 8.5h-9zM745 1352l4.5 8.5h-9zM709 1358l4.5 8.5h-9zM719 1359l4.5 8.5h-9zM731 1360l4.5 8.5h-9zM741 1358l4.5 8.5h-9zM715 1365l4.5 8.5h-9zM729 1366l4.5 8.5h-9zM741 1365l4.5 8.5h-9zM721 1372l4.5 8.5h-9zM735 1375l4.5 8.5h-9zM727 1380l4.5 8.5h-9z"/>
<path d="M1102 1185l4.5 8.5h-9zM1112 1186l4.5 8.5h-9zM1130 1185l4.5 8.5h-9zM1140 1185l4.5 8.5h-9zM1122 1191l4.5 8.5h-9zM1102 1199l4.5 8.5h-9zM1112 1200l4.5 8.5h-9zM1130 1199l4.5 8.5h-9zM1140 1199l4.5 8.5h-9zM1122 1207l4.5 8.5h-9zM1102 1207l4.5 8.5h-9zM1140 1207l4.5 8.5h-9zM1122 1216l4.5 8.5h-9zM1112 1217l4.5 8.5h-9zM1134 1216l4.5 8.5h-9zM1110 1238l4.5 8.5h-9zM1122 1242l4.5 8.5h-9zM1132 1241l4.5 8.5h-9zM1142 1238l4.5 8.5h-9zM1112 1249l4.5 8.5h-9zM1126 1250l4.5 8.5h-9zM1112 1262l4.5 8.5h-9zM1122 1268l4.5 8.5h-9zM1130 1291l4.5 8.5h-9zM1122 1297l4.5 8.5h-9zM1122 1312l4.5 8.5h-9zM1122 1339l4.5 8.5h-9z"/>
<path d="M362 1598l4.5 8.5h-9zM350 1631l4.5 8.5h-9zM374 1631l4.5 8.5h-9zM362 1639l4.5 8.5h-9zM382 1639l4.5 8.5h-9zM350 1648l4.5 8.5h-9zM362 1647l4.5 8.5h-9zM374 1648l4.5 8.5h-9zM382 1647l4.5 8.5h-9zM352 1656l4.5 8.5h-9zM368 1657l4.5 8.5h-9zM346 1665l4.5 8.5h-9zM358 1666l4.5 8.5h-9zM372 1664l4.5 8.5h-9zM382 1666l4.5 8.5h-9zM344 1674l4.5 8.5h-9zM356 1673l4.5 8.5h-9zM368 1675l4.5 8.5h-9zM378 1673l4.5 8.5h-9zM348 1681l4.5 8.5h-9zM362 1681l4.5 8.5h-9zM374 1682l4.5 8.5h-9zM344 1688l4.5 8.5h-9zM356 1687l4.5 8.5h-9zM370 1688l4.5 8.5h-9zM382 1687l4.5 8.5h-9zM348 1696l4.5 8.5h-9zM362 1695l4.5 8.5h-9zM374 1697l4.5 8.5h-9zM346 1704l4.5 8.5h-9zM358 1703l4.5 8.5h-9zM372 1705l4.5 8.5h-9zM354 1713l4.5 8.5h-9zM368 1714l4.5 8.5h-9z"/>
<path d="M732 1618l4.5 8.5h-9zM722 1629l4.5 8.5h-9zM740 1629l4.5 8.5h-9zM712 1645l4.5 8.5h-9zM742 1643l4.5 8.5h-9zM748 1647l4.5 8.5h-9zM718 1653l4.5 8.5h-9zM728 1654l4.5 8.5h-9zM740 1652l4.5 8.5h-9zM714 1661l4.5 8.5h-9zM726 1662l4.5 8.5h-9zM738 1660l4.5 8.5h-9zM750 1662l4.5 8.5h-9zM720 1669l4.5 8.5h-9zM732 1670l4.5 8.5h-9zM746 1668l4.5 8.5h-9zM714 1677l4.5 8.5h-9zM726 1678l4.5 8.5h-9zM740 1676l4.5 8.5h-9zM750 1678l4.5 8.5h-9zM718 1686l4.5 8.5h-9zM732 1685l4.5 8.5h-9zM744 1687l4.5 8.5h-9zM724 1694l4.5 8.5h-9zM742 1693l4.5 8.5h-9zM720 1705l4.5 8.5h-9zM736 1704l4.5 8.5h-9zM732 1712l4.5 8.5h-9zM722 1726l4.5 8.5h-9zM740 1725l4.5 8.5h-9zM728 1734l4.5 8.5h-9zM740 1747l4.5 8.5h-9zM732 1755l4.5 8.5h-9z"/>
<path d="M1135 1570l4.5 8.5h-9zM1115 1575l4.5 8.5h-9zM1125 1575l4.5 8.5h-9zM1105 1578l4.5 8.5h-9zM1145 1578l4.5 8.5h-9zM1115 1586l4.5 8.5h-9zM1125 1587l4.5 8.5h-9zM1135 1586l4.5 8.5h-9zM1105 1590l4.5 8.5h-9zM1145 1591l4.5 8.5h-9zM1105 1598l4.5 8.5h-9zM1145 1598l4.5 8.5h-9zM1115 1605l4.5 8.5h-9zM1125 1606l4.5 8.5h-9zM1135 1605l4.5 8.5h-9zM1125 1612l4.5 8.5h-9zM1115 1617l4.5 8.5h-9zM1135 1616l4.5 8.5h-9zM1105 1627l4.5 8.5h-9zM1125 1625l4.5 8.5h-9zM1145 1627l4.5 8.5h-9zM1105 1639l4.5 8.5h-9zM1115 1639l4.5 8.5h-9zM1125 1640l4.5 8.5h-9zM1135 1639l4.5 8.5h-9zM1115 1650l4.5 8.5h-9zM1135 1651l4.5 8.5h-9zM1125 1655l4.5 8.5h-9zM1115 1670l4.5 8.5h-9zM1135 1671l4.5 8.5h-9zM1125 1683l4.5 8.5h-9zM1115 1694l4.5 8.5h-9zM1135 1694l4.5 8.5h-9z"/>
</g>
<!-- means & SEM -->
<g stroke="#111" stroke-width="2.2" fill="none">
<path d="M181 1333.5h54M208.3 1330.5v6M198 1330.5h20M198 1336.5h20"/>
<path d="M258 1310.6h54M285.4 1308v5M275 1308h20M275 1313h20"/>
<path d="M335 1260.6h54M362 1255.6v10M352 1255.6h20M352 1265.6h20"/>
<path d="M543 1299.4h54M570 1294.4v10M560 1294.4h20M560 1304.4h20"/>
<path d="M621 1309.8h55M648.6 1305.8v8M638 1305.8h21M638 1313.8h21"/>
<path d="M700 1355.7h54M726.7 1352.7v6M716 1352.7h21M716 1358.7h21"/>
<path d="M936 1325.2h54M963.3 1322.2v6M953 1322.2h21M953 1328.2h21"/>
<path d="M1014 1271h56M1041.7 1263.5v15M1031 1263.5h21M1031 1278.5h21"/>
<path d="M1093 1235.6h57M1121.7 1227.6v16M1111 1227.6h21M1111 1243.6h21"/>
<path d="M181 1667.75h54M207.8 1664.75v6M197 1664.75h21M197 1670.75h21"/>
<path d="M258 1669.9h54M284.9 1665.9v8M274 1665.9h21M274 1673.9h21"/>
<path d="M334 1682.8h55M361.5 1678.8v8M351 1678.8h21M351 1686.8h21"/>
<path d="M540 1750.5h55M567.5 1747.5v6M557 1747.5h21M557 1753.5h21"/>
<path d="M622 1718.8h55M649.6 1714.8v8M639 1714.8h21M639 1722.8h21"/>
<path d="M704 1687.6h55M731.6 1682.6v10M721 1682.6h21M721 1692.6h21"/>
<path d="M936 1709.1h55M963.3 1705.1v8M953 1705.1h21M953 1713.1h21"/>
<path d="M1018 1675.3h55M1045 1671.3v8M1034 1671.3h22M1034 1679.3h22"/>
<path d="M1097 1630.7h57M1125 1623.2v15M1114 1623.2h22M1114 1638.2h22"/>
</g>
</svg>
</body></html>
